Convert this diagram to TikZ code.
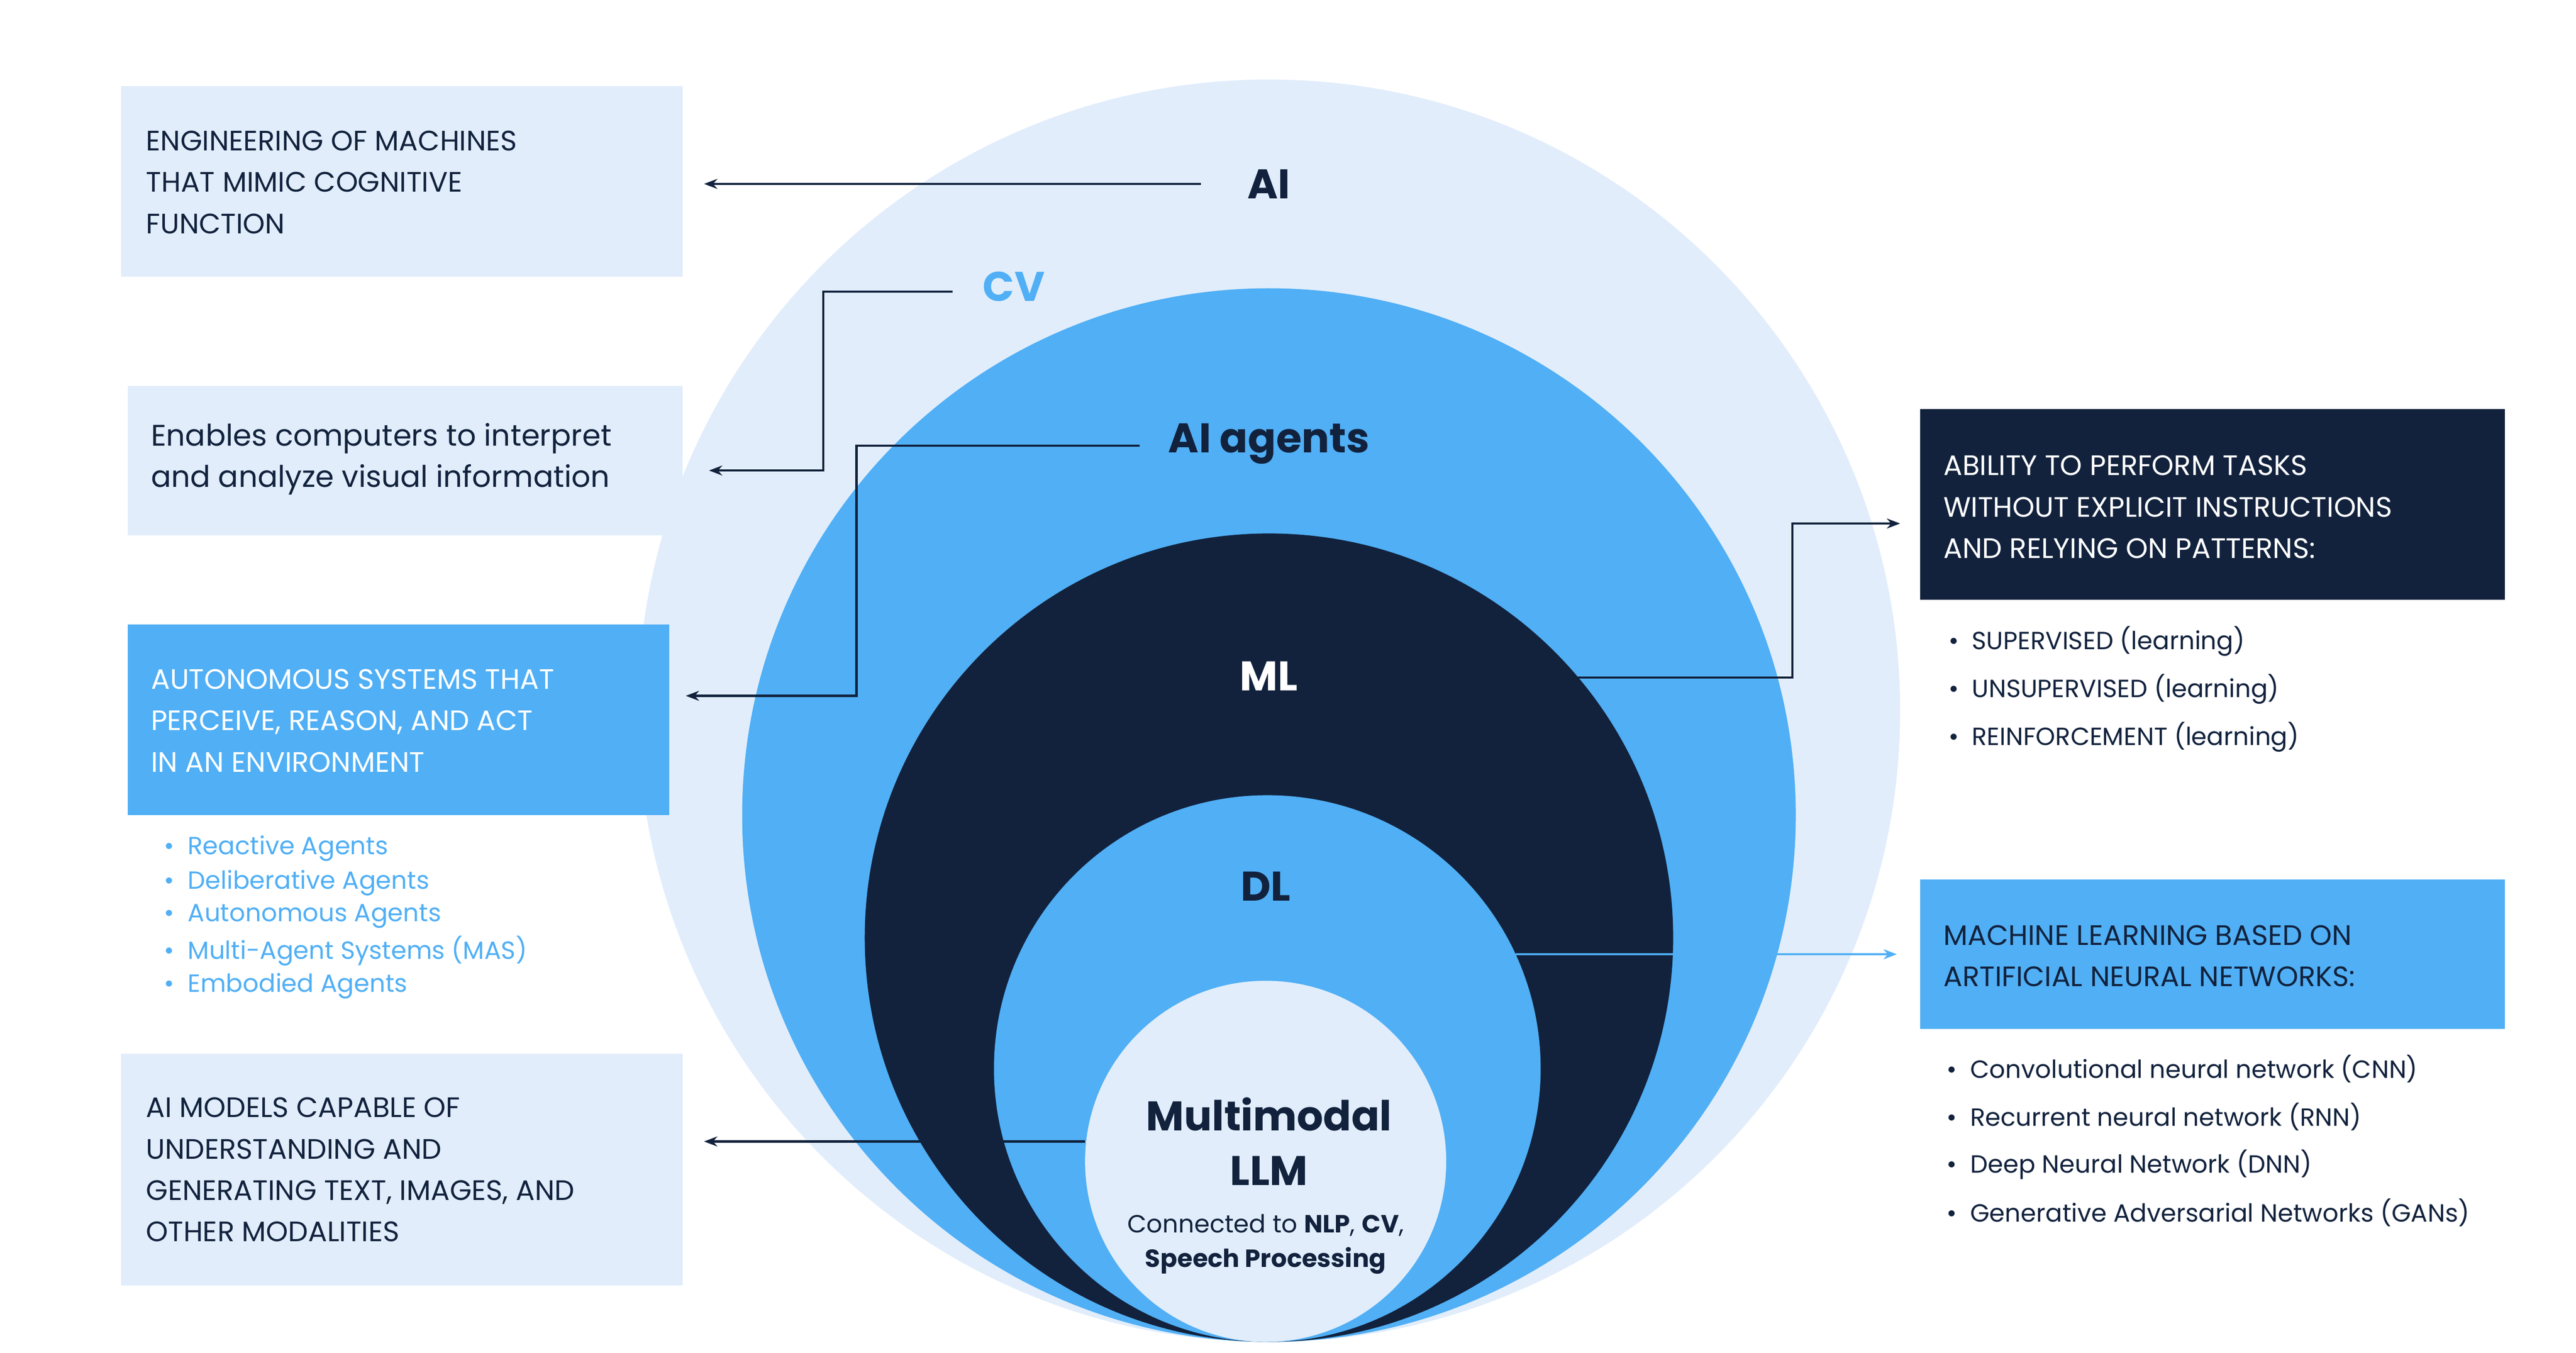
\documentclass[tikz,border=0pt]{standalone}
\usepackage{fontspec}
\setmainfont{Poppins}
\usetikzlibrary{arrows.meta}
\definecolor{lite}{HTML}{E1EDFB}
\definecolor{blu}{HTML}{50AFF5}
\definecolor{navy}{HTML}{12223D}
\tikzset{
 box/.style={anchor=north west,inner sep=0pt,minimum width=#1,minimum height=10pt},
 head/.style={anchor=west,inner sep=0pt,align=left,font=\fontsize{17}{25}\selectfont},
 lbl/.style={inner sep=0pt,font=\fontsize{25}{32}\selectfont\bfseries},
 conn/.style={line width=1.4pt,-{Stealth[length=8pt,width=6pt]}},
 blt/.style={anchor=west,inner sep=0pt,font=\fontsize{15}{20}\selectfont},
}
\begin{document}
\begin{tikzpicture}[x=1pt,y=-1pt]
\useasboundingbox (0,0) rectangle (1555,816.6);
% circles
\fill[lite] (766,429) circle (381);
\fill[blu] (766,492) circle (318);
\fill[navy] (766,566) circle (244);
\fill[blu] (765,645) circle (165);
\fill[lite] (764,701) circle (109);
% boxes
\fill[lite] (73,52) rectangle (412,167);
\fill[lite] (77,233) rectangle (412,323);
\fill[blu] (77,377) rectangle (404,492);
\fill[lite] (73,636) rectangle (412,776);
\fill[navy] (1159,247) rectangle (1512,362);
\fill[blu] (1159,531) rectangle (1512,621);
% box texts
\node[head,text=navy] (t1) at (88,110) {ENGINEERING OF MACHINES\\THAT MIMIC COGNITIVE\\FUNCTION};
\node[head,text=navy,font=\fontsize{18}{25}\selectfont] (t2) at (91,277) {Enables computers to interpret\\and analyze visual information};
\node[head,text=white] (t3) at (91,435) {AUTONOMOUS SYSTEMS THAT\\PERCEIVE, REASON, AND ACT\\IN AN ENVIRONMENT};
\node[head,text=navy] (t4) at (88,706) {AI MODELS CAPABLE OF\\UNDERSTANDING AND\\GENERATING TEXT, IMAGES, AND\\OTHER MODALITIES};
\node[head,text=white] (t5) at (1173,306) {ABILITY TO PERFORM TASKS\\WITHOUT EXPLICIT INSTRUCTIONS\\AND RELYING ON PATTERNS:};
\node[head,text=navy] (t6) at (1173,577) {MACHINE LEARNING BASED ON\\ARTIFICIAL NEURAL NETWORKS:};
% left bullets
\foreach \y/\t in {512/Reactive Agents,533/Deliberative Agents,553/Autonomous Agents,574/Multi-Agent Systems (MAS),595/Embodied Agents}{
 \node[blt,text=blu] at (99,\y) {\textbullet\hspace{8pt}\t};}
\foreach \y/\t/\u in {387/SUPERVISED/(learning),416/UNSUPERVISED/(learning),445/REINFORCEMENT/(learning)}{
 \node[blt,text=navy] at (1176,\y) {\textbullet\hspace{8pt}\t\ \u};}
\foreach \y/\t in {645/Convolutional neural network (CNN),674/Recurrent neural network (RNN),703/Deep Neural Network (DNN),732/Generative Adversarial Networks (GANs)}{
 \node[blt,text=navy] at (1175,\y) {\textbullet\hspace{8pt}\t};}
% center labels
\node[lbl,text=navy] (ai) at (766,111) {AI};
\node[lbl,text=blu] (cv) at (612,173) {CV};
\node[lbl,text=navy] (ag) at (766,268) {AI agents};
\node[lbl,text=white] (ml) at (766,408) {ML};
\node[lbl,text=navy] (dl) at (764,535) {DL};
\node[lbl,text=navy,align=center,font=\fontsize{25}{33}\selectfont\bfseries] (llm) at (766,689) {Multimodal\\LLM};
\node[inner sep=0pt,text=navy,align=center,font=\fontsize{15}{21}\selectfont] (con) at (764,751) {Connected to \textbf{NLP}, \textbf{CV},\\\textbf{Speech Processing}};
% connectors
\coordinate (a1) at (725,111); \coordinate (a2) at (425,111);
\draw[conn,navy] (a1) -- (a2);
\coordinate (c1) at (575,176); \coordinate (c2) at (428,284);
\draw[conn,navy] (c1) -- (497,176) |- (c2);
\coordinate (g1) at (688,269); \coordinate (g2) at (414,420);
\draw[conn,navy] (g1) -- (517,269) |- (g2);
\coordinate (m1) at (950,409); \coordinate (m2) at (1147,316);
\draw[conn,navy] (m1) -- (1082,409) |- (m2);
\coordinate (d1) at (915,576); \coordinate (d2) at (1145,576);
\draw[conn,blu] (d1) -- (d2);
\coordinate (l1) at (655,689); \coordinate (l2) at (425,689);
\draw[conn,navy] (l1) -- (l2);
\end{tikzpicture}
\end{document}
